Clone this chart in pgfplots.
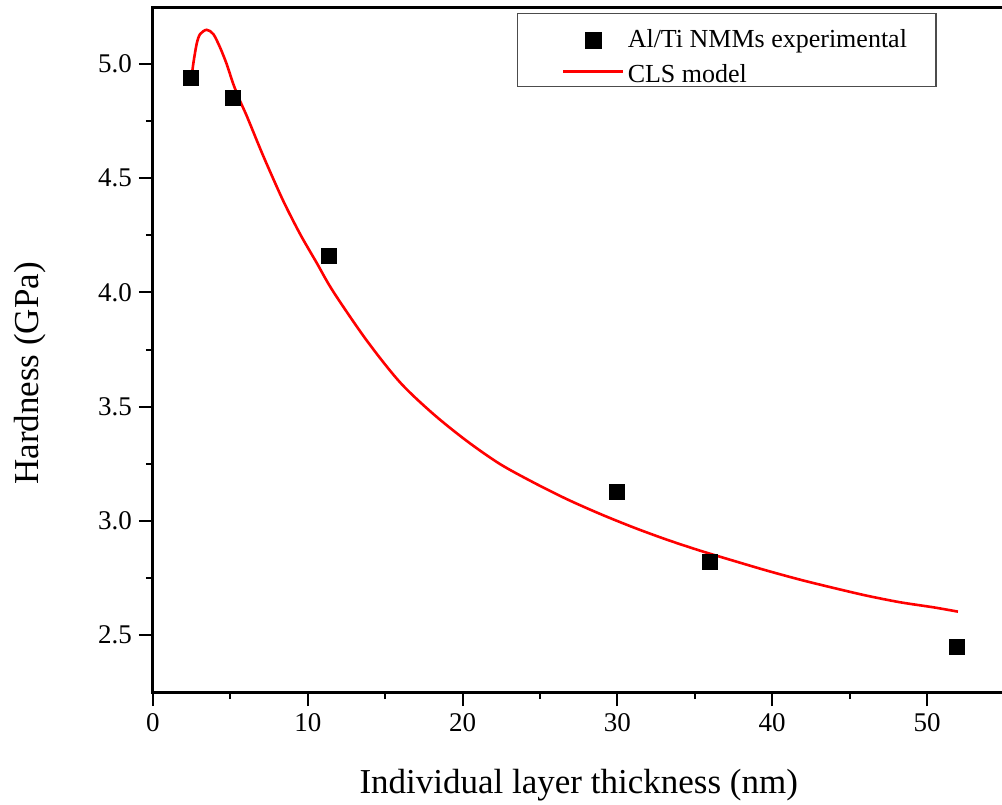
\documentclass[border=0pt]{standalone}
\usepackage{fontspec}
\setmainfont{Liberation Serif}
\usepackage{pgfplots}
\pgfplotsset{compat=1.18}
\pgfplotsset{
 mymarkleg/.style={legend image code/.code={\path (0bp,0bp) (39.5bp,0bp); \draw[##1] plot coordinates {(24.5bp,-4bp)};}},
 mylineleg/.style={legend image code/.code={\path (0bp,0bp) (39.5bp,0bp); \draw[##1] (9.5bp,-1.8bp) -- (39.5bp,-1.8bp);}},
}
\newcommand{\tlfont}{\fontsize{13.5bp}{16bp}\selectfont}
\begin{document}
\begin{tikzpicture}
\begin{axis}[
 name=ax, at={(0,0)}, anchor=south west,
 scale only axis, width=425.7bp, height=342.5bp,
 xmin=0, xmax=55, ymin=2.25, ymax=5.25,
 xtick={0,10,20,30,40,50}, minor x tick num=1,
 ytick={2.5,3,3.5,4,4.5,5}, minor y tick num=1,
 xtick pos=left, ytick pos=left,
 tick align=outside,
 major tick length=7bp, minor tick length=3.5bp,
 every tick/.style={black, line width=1bp},
 axis line style={line width=1.5bp},
 /pgf/number format/assume math mode=true,
 xticklabels={0,10,20,30,40,50},
 yticklabels={2.5,3.0,3.5,4.0,4.5,5.0},
 tick label style={font=\tlfont},
 xlabel={Individual layer thickness (nm)},
 ylabel={Hardness (GPa)},
 label style={font=\fontsize{17.5bp}{21bp}\selectfont},
 xlabel style={at={([yshift=-50.5bp]rel axis cs:0.5,0)}, anchor=base},
 ylabel style={at={([xshift=-61.5bp]rel axis cs:0,0.465)}, anchor=center},
 legend cell align=left,
 legend style={at={(rel axis cs:0.427,0.991)}, anchor=north west,
   draw=black!70, line width=0.6bp, fill=white,
   inner xsep=13bp, inner ysep=0.5bp, row sep=0pt,
   font=\fontsize{13bp}{15.6bp}\selectfont,
   nodes={inner sep=1.5bp, text height=14.7bp, text depth=0bp}},
]
\addplot[only marks, mark=square*, mark size=3.75bp, black, mymarkleg]
 table {
x y
2.45 4.94
5.15 4.85
11.37 4.16
29.97 3.127
35.98 2.818
51.94 2.446
};
\addlegendentry{Al/Ti NMMs experimental}
\addplot[red, line width=1.3bp, smooth, mark=none, mylineleg]
 table {
x y
2.48 4.93
2.6 5.0
2.82 5.088
3.04 5.131
3.47 5.150
3.9 5.131
4.33 5.073
4.76 5.0
5.19 4.912
5.62 4.839
6.05 4.774
6.8 4.65
7.35 4.562
8.42 4.40
9.5 4.256
10.57 4.13
11.65 4.003
13.8 3.79
15.96 3.606
18.1 3.468
20.26 3.35
22.4 3.249
24.57 3.168
26.72 3.095
28.88 3.03
31.03 2.971
33.2 2.917
35.34 2.869
37.49 2.825
39.64 2.782
41.8 2.742
43.95 2.706
46.1 2.672
48.26 2.643
50.4 2.621
52.0 2.602
};
\addlegendentry{CLS model}
\end{axis}
\pgfresetboundingbox
\path[use as bounding box] ([shift={(-76.5bp,-56.5bp)}]ax.south west) rectangle ([shift={(-1.2bp,3.5bp)}]ax.north east);
\end{tikzpicture}
\end{document}
